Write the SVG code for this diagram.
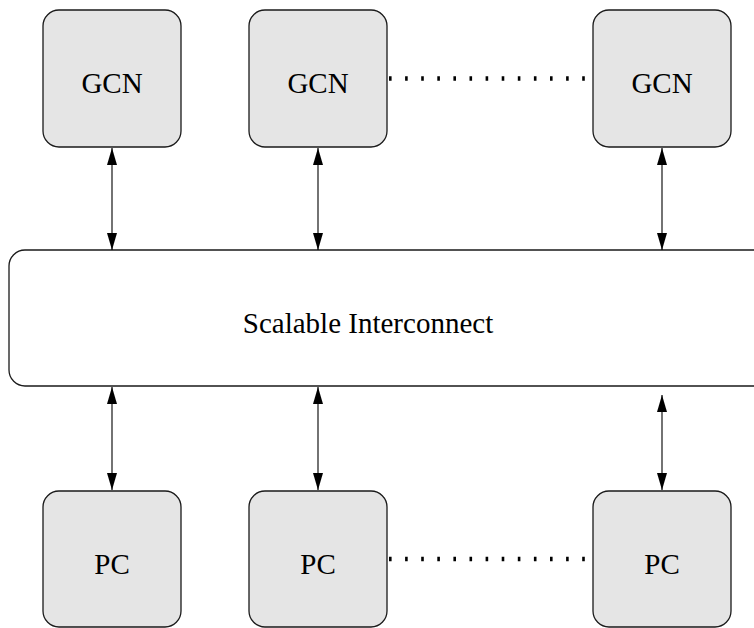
<svg xmlns="http://www.w3.org/2000/svg" width="754" height="628" viewBox="0 0 754 628">
  <style>
    .node rect { fill: #e5e5e5; stroke: #1a1a1a; stroke-width: 1.3; }
    .bus rect { fill: #ffffff; stroke: #1a1a1a; stroke-width: 1.3; }
    text { font-family: "Liberation Serif", "Times New Roman", serif; font-size: 29px; fill: #000; text-anchor: middle; }
    .conn line { stroke: #000; stroke-width: 1.1; }
    .dots line { stroke: #000; stroke-width: 4.5; stroke-dasharray: 2.6 13.5; }
  </style>
  <defs>
    <marker id="ah" markerUnits="userSpaceOnUse" viewBox="0 0 17 11" markerWidth="17" markerHeight="11" refX="17" refY="5.5" orient="auto-start-reverse">
      <path d="M0,0.5 L17,5.5 L0,10.5 Z" fill="#000"/>
    </marker>
  </defs>

  <g id="interconnect" class="bus">
    <rect x="9" y="250" width="765" height="136" rx="16" ry="16"/>
    <text x="368" y="333">Scalable Interconnect</text>
  </g>

  <g id="gcn1" class="node">
    <rect x="43" y="10" width="138" height="137" rx="16" ry="16"/>
    <text x="112" y="93">GCN</text>
  </g>
  <g id="gcn2" class="node">
    <rect x="249" y="10" width="138" height="137" rx="16" ry="16"/>
    <text x="318" y="93">GCN</text>
  </g>
  <g id="gcn3" class="node">
    <rect x="593" y="10" width="138" height="137" rx="16" ry="16"/>
    <text x="662" y="93">GCN</text>
  </g>

  <g id="pc1" class="node">
    <rect x="43" y="491" width="138" height="136" rx="16" ry="16"/>
    <text x="112" y="574">PC</text>
  </g>
  <g id="pc2" class="node">
    <rect x="249" y="491" width="138" height="136" rx="16" ry="16"/>
    <text x="318" y="574">PC</text>
  </g>
  <g id="pc3" class="node">
    <rect x="593" y="491" width="138" height="136" rx="16" ry="16"/>
    <text x="662" y="574">PC</text>
  </g>

  <g id="connectors" class="conn">
    <line x1="112" y1="148" x2="112" y2="250" marker-start="url(#ah)" marker-end="url(#ah)"/>
    <line x1="318" y1="148" x2="318" y2="250" marker-start="url(#ah)" marker-end="url(#ah)"/>
    <line x1="662" y1="148" x2="662" y2="250" marker-start="url(#ah)" marker-end="url(#ah)"/>
    <line x1="112" y1="387" x2="112" y2="490" marker-start="url(#ah)" marker-end="url(#ah)"/>
    <line x1="318" y1="387" x2="318" y2="490" marker-start="url(#ah)" marker-end="url(#ah)"/>
    <line x1="662" y1="395" x2="662" y2="490" marker-start="url(#ah)" marker-end="url(#ah)"/>
  </g>

  <g id="ellipses" class="dots">
    <line x1="389" y1="78.5" x2="588" y2="78.5"/>
    <line x1="389" y1="559" x2="588" y2="559"/>
  </g>
</svg>
